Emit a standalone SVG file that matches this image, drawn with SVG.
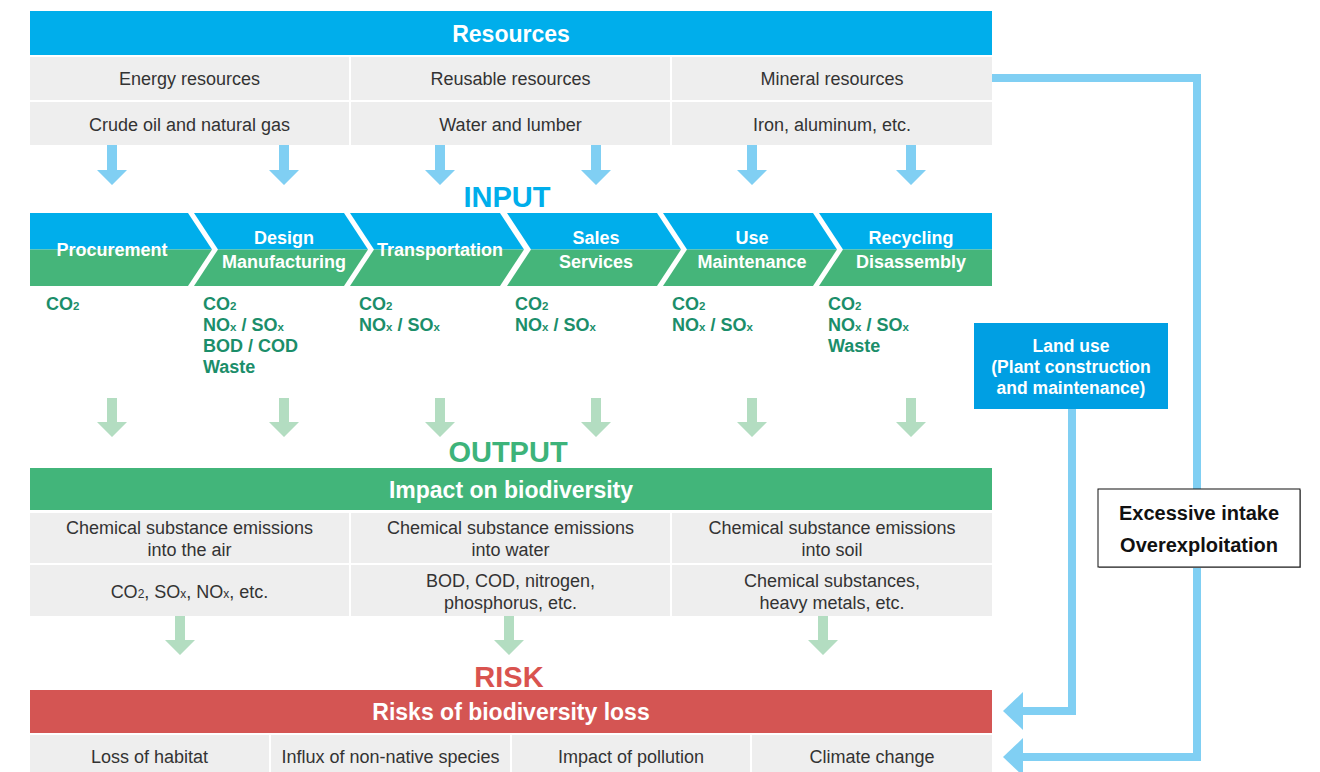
<svg xmlns="http://www.w3.org/2000/svg" width="1320" height="772" viewBox="0 0 1320 772">
<defs>
<style>
text{font-family:"Liberation Sans",Arial,sans-serif;}
.hdr{font-size:23px;font-weight:bold;fill:#fff;text-anchor:middle;}
.cell{fill:#eeeeee;}
.ct{font-size:18px;fill:#333;text-anchor:middle;}
.stg{font-size:18px;font-weight:bold;fill:#fff;text-anchor:middle;}
.em{font-size:18px;font-weight:bold;fill:#1b8e6a;}
.sub{font-size:11.5px;}
.csub{font-size:12px;}
.big{font-size:29px;font-weight:bold;text-anchor:middle;}
.blue{fill:#00aeeb;}
.green{fill:#45b57a;}
.barrow{fill:#80cff3;}
.garrow{fill:#b3ddc1;}
.conn{fill:none;stroke:#80cff3;stroke-width:8;}
.lu{font-size:17.5px;font-weight:bold;fill:#fff;text-anchor:middle;}
.ex{font-size:20px;font-weight:bold;fill:#111;text-anchor:middle;}
</style>
<marker id="ah" markerUnits="userSpaceOnUse" markerWidth="20" markerHeight="38" refX="5" refY="19" orient="auto" viewBox="0 0 20 38">
<path d="M0,0 L20,19 L0,38 z" fill="#80cff3"/>
</marker>
</defs>

<g id="resources">
<rect x="30" y="11" width="962" height="44" class="blue"/>
<text x="511" y="42" class="hdr">Resources</text>
</g>
<g id="res-energy">
<rect x="30" y="57" width="319" height="43" class="cell"/>
<text x="189.5" y="85" class="ct">Energy resources</text>
<rect x="30" y="102" width="319" height="43" class="cell"/>
<text x="189.5" y="131" class="ct">Crude oil and natural gas</text>
</g>
<g id="res-reusable">
<rect x="351" y="57" width="319" height="43" class="cell"/>
<text x="510.5" y="85" class="ct">Reusable resources</text>
<rect x="351" y="102" width="319" height="43" class="cell"/>
<text x="510.5" y="131" class="ct">Water and lumber</text>
</g>
<g id="res-mineral">
<rect x="672" y="57" width="320" height="43" class="cell"/>
<text x="832" y="85" class="ct">Mineral resources</text>
<rect x="672" y="102" width="320" height="43" class="cell"/>
<text x="832" y="131" class="ct">Iron, aluminum, etc.</text>
</g>

<g id="label-input">
<text x="507" y="207" class="big" fill="#00aeeb">INPUT</text>
</g>

<g id="stage-procurement">
<polygon points="30,213 188,213 212,249.5 30,249.5" class="blue"/>
<polygon points="30,249.5 212,249.5 188,286 30,286" class="green"/>
<text x="112" y="256" class="stg">Procurement</text>
</g>
<g id="stage-design">
<polygon points="194,213 344,213 368,249.5 218,249.5" class="blue"/>
<polygon points="218,249.5 368,249.5 344,286 194,286" class="green"/>
<text x="284" y="244" class="stg">Design</text>
<text x="284" y="268" class="stg">Manufacturing</text>
</g>
<g id="stage-transportation">
<polygon points="350,213 500,213 524,249.5 374,249.5" class="blue"/>
<polygon points="374,249.5 524,249.5 500,286 350,286" class="green"/>
<text x="440" y="256" class="stg">Transportation</text>
</g>
<g id="stage-sales">
<polygon points="507,213 657,213 681,249.5 531,249.5" class="blue"/>
<polygon points="531,249.5 681,249.5 657,286 507,286" class="green"/>
<text x="596" y="244" class="stg">Sales</text>
<text x="596" y="268" class="stg">Services</text>
</g>
<g id="stage-use">
<polygon points="663,213 813,213 837,249.5 687,249.5" class="blue"/>
<polygon points="687,249.5 837,249.5 813,286 663,286" class="green"/>
<text x="752" y="244" class="stg">Use</text>
<text x="752" y="268" class="stg">Maintenance</text>
</g>
<g id="stage-recycling">
<polygon points="819,213 992,213 992,249.5 843,249.5" class="blue"/>
<polygon points="843,249.5 992,249.5 992,286 819,286" class="green"/>
<text x="911" y="244" class="stg">Recycling</text>
<text x="911" y="268" class="stg">Disassembly</text>
</g>

<g id="em-procurement">
<text x="46" y="310" class="em">CO<tspan class="sub">2</tspan></text>
</g>
<g id="em-design">
<text x="203" y="310" class="em">CO<tspan class="sub">2</tspan></text>
<text x="203" y="331" class="em">NO<tspan class="sub">x</tspan> / SO<tspan class="sub">x</tspan></text>
<text x="203" y="352" class="em">BOD / COD</text>
<text x="203" y="373" class="em">Waste</text>
</g>
<g id="em-transportation">
<text x="359" y="310" class="em">CO<tspan class="sub">2</tspan></text>
<text x="359" y="331" class="em">NO<tspan class="sub">x</tspan> / SO<tspan class="sub">x</tspan></text>
</g>
<g id="em-sales">
<text x="515" y="310" class="em">CO<tspan class="sub">2</tspan></text>
<text x="515" y="331" class="em">NO<tspan class="sub">x</tspan> / SO<tspan class="sub">x</tspan></text>
</g>
<g id="em-use">
<text x="672" y="310" class="em">CO<tspan class="sub">2</tspan></text>
<text x="672" y="331" class="em">NO<tspan class="sub">x</tspan> / SO<tspan class="sub">x</tspan></text>
</g>
<g id="em-recycling">
<text x="828" y="310" class="em">CO<tspan class="sub">2</tspan></text>
<text x="828" y="331" class="em">NO<tspan class="sub">x</tspan> / SO<tspan class="sub">x</tspan></text>
<text x="828" y="352" class="em">Waste</text>
</g>

<g id="land-use">
<rect x="974" y="323" width="194" height="86" fill="#009fe3"/>
<text x="1071" y="352" class="lu">Land use</text>
<text x="1071" y="373" class="lu">(Plant construction</text>
<text x="1071" y="394" class="lu">and maintenance)</text>
</g>

<g id="label-output">
<text x="508" y="462" class="big" fill="#3db37a">OUTPUT</text>
</g>

<g id="impact">
<rect x="30" y="468" width="962" height="42" fill="#42b57a"/>
<text x="511" y="498" class="hdr">Impact on biodiversity</text>
</g>
<g id="impact-air">
<rect x="30" y="513" width="319" height="50" class="cell"/>
<text x="189.5" y="534" class="ct">Chemical substance emissions</text>
<text x="189.5" y="556" class="ct">into the air</text>
<rect x="30" y="565" width="319" height="51" class="cell"/>
<text x="189.5" y="598" class="ct">CO<tspan class="csub">2</tspan>, SO<tspan class="csub">x</tspan>, NO<tspan class="csub">x</tspan>, etc.</text>
</g>
<g id="impact-water">
<rect x="351" y="513" width="319" height="50" class="cell"/>
<text x="510.5" y="534" class="ct">Chemical substance emissions</text>
<text x="510.5" y="556" class="ct">into water</text>
<rect x="351" y="565" width="319" height="51" class="cell"/>
<text x="510.5" y="587" class="ct">BOD, COD, nitrogen,</text>
<text x="510.5" y="609" class="ct">phosphorus, etc.</text>
</g>
<g id="impact-soil">
<rect x="672" y="513" width="320" height="50" class="cell"/>
<text x="832" y="534" class="ct">Chemical substance emissions</text>
<text x="832" y="556" class="ct">into soil</text>
<rect x="672" y="565" width="320" height="51" class="cell"/>
<text x="832" y="587" class="ct">Chemical substances,</text>
<text x="832" y="609" class="ct">heavy metals, etc.</text>
</g>

<g id="label-risk">
<text x="509" y="687" class="big" fill="#d9534f">RISK</text>
</g>

<g id="risks">
<rect x="30" y="690" width="962" height="43" fill="#d45553"/>
<text x="511" y="720" class="hdr">Risks of biodiversity loss</text>
</g>
<g id="risk-habitat">
<rect x="30" y="735" width="239" height="37" class="cell"/>
<text x="149.5" y="763" class="ct">Loss of habitat</text>
</g>
<g id="risk-influx">
<rect x="271" y="735" width="239" height="37" class="cell"/>
<text x="390.5" y="763" class="ct">Influx of non-native species</text>
</g>
<g id="risk-pollution">
<rect x="512" y="735" width="238" height="37" class="cell"/>
<text x="631" y="763" class="ct">Impact of pollution</text>
</g>
<g id="risk-climate">
<rect x="752" y="735" width="240" height="37" class="cell"/>
<text x="872" y="763" class="ct">Climate change</text>
</g>

<g id="connectors">
<g class="barrow">
<polygon points="107,145 117,145 117,170 127,170 112,185 97,170 107,170"/>
<polygon points="279,145 289,145 289,170 299,170 284,185 269,170 279,170"/>
<polygon points="435,145 445,145 445,170 455,170 440,185 425,170 435,170"/>
<polygon points="591,145 601,145 601,170 611,170 596,185 581,170 591,170"/>
<polygon points="747,145 757,145 757,170 767,170 752,185 737,170 747,170"/>
<polygon points="906,145 916,145 916,170 926,170 911,185 896,170 906,170"/>
</g>
<g class="garrow">
<polygon points="107,398 117,398 117,422 127,422 112,437 97,422 107,422"/>
<polygon points="279,398 289,398 289,422 299,422 284,437 269,422 279,422"/>
<polygon points="435,398 445,398 445,422 455,422 440,437 425,422 435,422"/>
<polygon points="591,398 601,398 601,422 611,422 596,437 581,422 591,422"/>
<polygon points="747,398 757,398 757,422 767,422 752,437 737,422 747,422"/>
<polygon points="906,398 916,398 916,422 926,422 911,437 896,422 906,422"/>
<polygon points="175,616 185,616 185,640 195,640 180,655 165,640 175,640"/>
<polygon points="504,616 514,616 514,640 524,640 509,655 494,640 504,640"/>
<polygon points="818,616 828,616 828,640 838,640 823,655 808,640 818,640"/>
</g>
<path d="M992,78 H1197 V757 H1018" class="conn" marker-end="url(#ah)"/>
<path d="M1072,409 V711 H1018" class="conn" marker-end="url(#ah)"/>
</g>

<g id="excessive-intake">
<rect x="1099" y="490" width="202" height="78" fill="#999"/>
<rect x="1098" y="489" width="202" height="78" fill="#fff" stroke="#111" stroke-width="1"/>
<text x="1199" y="520" class="ex">Excessive intake</text>
<text x="1199" y="552" class="ex">Overexploitation</text>
</g>
</svg>
